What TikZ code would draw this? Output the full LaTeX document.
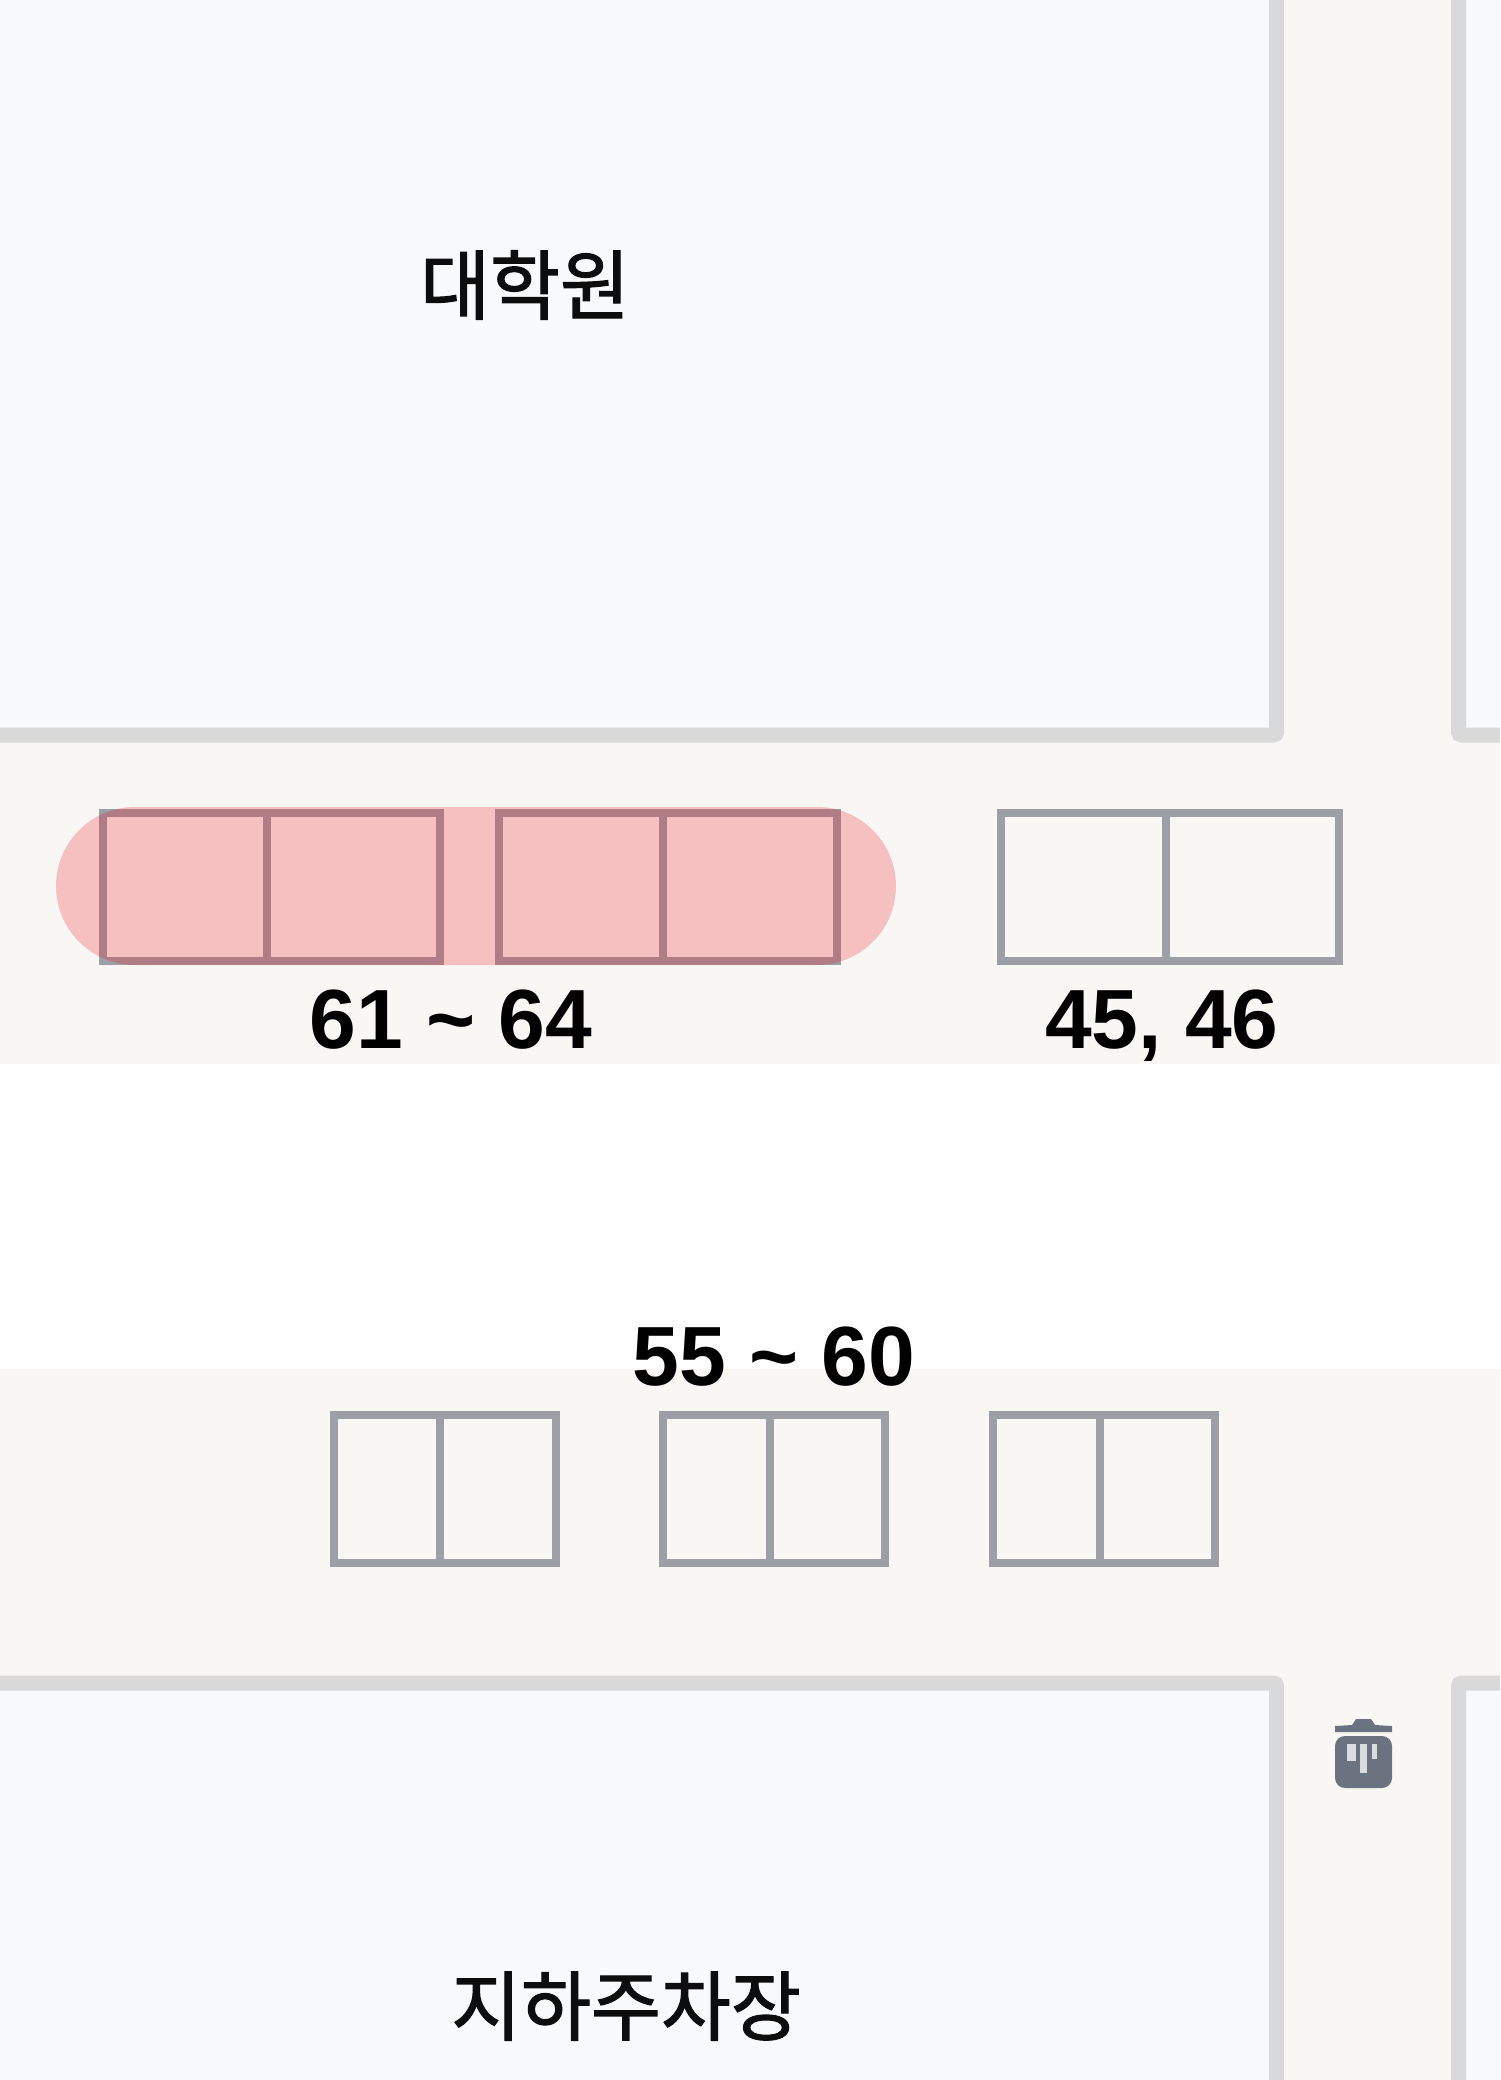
\documentclass[tikz,border=0pt]{standalone}
\usepackage{fontspec}
\setmainfont{Liberation Sans}
\newfontfamily\krfont[FakeBold=1.6]{Noto Sans CJK KR}
\definecolor{roadbg}{HTML}{F9F7F3}
\definecolor{bldfill}{HTML}{F8F9FB}
\definecolor{bldline}{HTML}{D8D9D8}
\definecolor{slotline}{HTML}{9CA0A6}
\definecolor{hilite}{HTML}{F01020}
\definecolor{binfill}{HTML}{6B7280}
\tikzset{
  building/.style={fill=bldfill,draw=bldline,line width=7.5pt,rounded corners=1.5pt},
  slotbox/.style={draw=slotline,line width=4pt,miter limit=10},
  numlabel/.style={font=\bfseries\fontsize{42}{42}\selectfont,text=black,inner sep=0pt,anchor=base},
  krlabel/.style={font=\krfont\fontsize{38}{38}\selectfont,text=black!95,inner sep=0pt},
}
\begin{document}
\begin{tikzpicture}[x=0.5pt,y=-0.5pt]
\useasboundingbox (0,0) rectangle (1500,2080);
\begin{scope}
\clip (0,0) rectangle (1500,2080);
\fill[roadbg] (0,0) rectangle (1500,2080);
\fill[white] (0,1064) rectangle (1500,1369);
% buildings
\draw[building] (-40,-40) rectangle (1276.5,735);
\draw[building] (1458.5,-40) rectangle (1560,735);
\draw[building] (-40,1683) rectangle (1276.5,2140);
\draw[building] (1458.5,1683) rectangle (1560,2140);
% slots row 1
\draw[slotbox] (103,812.5) rectangle (440,960.5) (267,812.5) -- (267,960.5);
\draw[slotbox] (499,812.5) rectangle (837,960.5) (663,812.5) -- (663,960.5);
\draw[slotbox] (1001,812.5) rectangle (1339,960.5) (1166,812.5) -- (1166,960.5);
% slots row 2
\draw[slotbox] (334,1414.5) rectangle (556,1562.5) (440,1414.5) -- (440,1562.5);
\draw[slotbox] (663,1414.5) rectangle (885,1562.5) (770,1414.5) -- (770,1562.5);
\draw[slotbox] (993,1414.5) rectangle (1215,1562.5) (1100,1414.5) -- (1100,1562.5);
% highlight capsule
\fill[hilite,opacity=0.24,rounded corners=39.5pt] (56,807) rectangle (896,965);
\end{scope}
% labels
\node[numlabel] (l1) at (451,1048) {61 \textasciitilde{} 64};
\node[numlabel] (l2) at (1162,1048) {45, 46};
\node[numlabel] (l3) at (774,1385) {55 \textasciitilde{} 60};
\node[krlabel] (k1) at (525,285) {대학원};
\node[krlabel] (k2) at (626,2006) {지하주차장};
% trash bin
\fill[binfill] (1352,1725) -- (1356,1719) -- (1371,1719) -- (1375,1725) -- (1392,1726) -- (1392,1732) -- (1335,1732) -- (1335,1726) -- cycle;
\fill[binfill,rounded corners=5pt] (1335,1736) rectangle (1392,1788);
\fill[white!75!binfill] (1347,1744) rectangle (1356,1761);
\fill[white!75!binfill] (1360,1744) rectangle (1367,1773);
\fill[white!75!binfill] (1372,1744) rectangle (1377,1759);
\end{tikzpicture}
\end{document}
